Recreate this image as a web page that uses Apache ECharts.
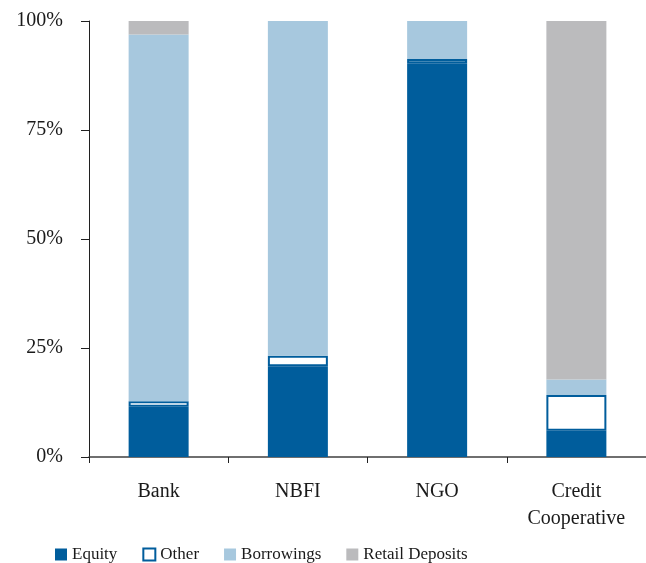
<!DOCTYPE html>
<html>
<head>
<meta charset="utf-8">
<script src="https://cdn.jsdelivr.net/npm/echarts@6/dist/echarts.min.js"></script>
<style>
  html, body { margin: 0; padding: 0; background: #fff; }
  #chart { width: 646px; height: 563px; }
</style>
</head>
<body>
<div id="chart"></div>
<script>
// institution types on the x axis
const categories = ["Bank", "NBFI", "NGO", "Credit\nCooperative"];

// share of funding, percent (stacked)
const equity = [11.5, 20.8, 90.3, 6.0];
const other = [1.3, 2.4, 1.0, 8.2];
const borrowings = [84.1, 76.8, 8.7, 3.6];
const retailDeposits = [3.1, 0, 0, 82.2];

const yTicks = [0, 25, 50, 75, 100];

let myChart = echarts.init(document.getElementById("chart"));

const serif = "Liberation Serif";

myChart.setOption({
  animation: false,
  textStyle: { fontFamily: serif },
  grid: {
    left: 89,
    top: 21,
    bottom: 106,
    width: 562
  },
  legend: {
    top: 541,
    left: 50,
    icon: "rect",
    itemWidth: 12,
    itemHeight: 12,
    itemGap: 25,
    itemTextGap: 4,
    textStyle: { fontFamily: serif, fontSize: 17, color: "#1a1a1a" },
    data: ["Equity", "Other", "Borrowings", "Retail Deposits"]
  },
  xAxis: {
    type: "category",
    data: categories,
    axisLine: { lineStyle: { color: "#404040", width: 1.5 } },
    axisTick: { show: true, length: 6, lineStyle: { color: "#202020" } },
    axisLabel: {
      color: "#1a1a1a",
      fontFamily: serif,
      fontSize: 20,
      lineHeight: 27,
      margin: 21
    }
  },
  yAxis: {
    type: "value",
    min: yTicks[0],
    max: yTicks[yTicks.length - 1],
    interval: 25,
    splitLine: { show: false },
    axisLine: { show: true, lineStyle: { color: "#202020", width: 1 } },
    axisTick: { show: true, length: 8, lineStyle: { color: "#202020" } },
    axisLabel: {
      color: "#1a1a1a",
      fontFamily: serif,
      fontSize: 20,
      margin: 26,
      formatter: "{value}%"
    }
  },
  series: [
    {
      name: "Equity",
      type: "bar",
      stack: "Total",
      barWidth: 60,
      data: equity,
      itemStyle: { color: "#005d9c" }
    },
    {
      name: "Other",
      type: "bar",
      stack: "Total",
      data: other,
      itemStyle: { color: "#ffffff", borderColor: "#005d9c", borderWidth: 2 }
    },
    {
      name: "Borrowings",
      type: "bar",
      stack: "Total",
      data: borrowings,
      itemStyle: { color: "#a7c8de" }
    },
    {
      name: "Retail Deposits",
      type: "bar",
      stack: "Total",
      data: retailDeposits,
      itemStyle: { color: "#bbbbbd" }
    }
  ]
});
</script>
</body>
</html>
